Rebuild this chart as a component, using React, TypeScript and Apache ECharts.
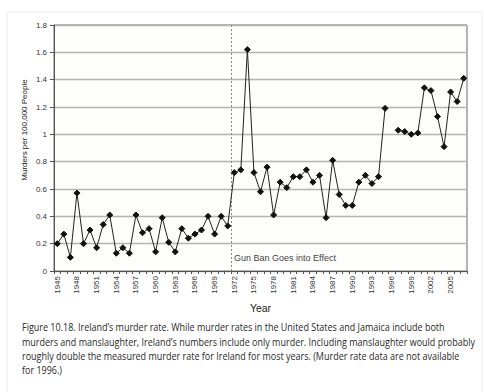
import React, { useEffect, useRef } from "react";
import * as echarts from "echarts";

const startYear = 1945;
const endYear = 2007;
const years: string[] = [];
for (let y = startYear; y <= endYear; y++) years.push(String(y));

// Murders per 100,000 people, 1945–2007 (1996 not available)
const murderRates: (number | null)[] = [
  0.20, 0.27, 0.10, 0.57, 0.20, 0.30, 0.17, 0.34, 0.41, 0.13, // 1945-1954
  0.17, 0.13, 0.41, 0.28, 0.31, 0.14, 0.39, 0.21, 0.14, 0.31, // 1955-1964
  0.24, 0.27, 0.30, 0.40, 0.27, 0.40, 0.33, 0.72, 0.74, 1.62, // 1965-1974
  0.72, 0.58, 0.76, 0.41, 0.65, 0.61, 0.69, 0.69, 0.74, 0.65, // 1975-1984
  0.70, 0.39, 0.81, 0.56, 0.48, 0.48, 0.65, 0.70, 0.64, 0.69, // 1985-1994
  1.19, null, 1.03, 1.02, 1.00, 1.01, 1.34, 1.32, 1.13, 0.91, // 1995-2004
  1.31, 1.24, 1.41,                                           // 2005-2007
];

const gunBanBoundary = 1971.5;
const gunBanLabel = "Gun Ban Goes into Effect";
const yAxisTitle = "Murders per 100,000 People";
const xAxisTitle = "Year";
const captionLines = [
  "Figure 10.18. Ireland\u2019s murder rate. While murder rates in the United States and Jamaica include both",
  "murders and manslaughter, Ireland\u2019s numbers include only murder. Including manslaughter would probably",
  "roughly double the measured murder rate for Ireland for most years. (Murder rate data are not available",
  "for 1996.)",
];

export default function App() {
  const ref = useRef<HTMLDivElement>(null);
  useEffect(() => {
    if (!ref.current) return;
    const chart = echarts.init(ref.current, null, { renderer: "svg" });
    const font = "Liberation Sans, Arial, sans-serif";
    chart.setOption({
      animation: false,
      backgroundColor: "#ffffff",
      grid: {
        left: 54,
        top: 25,
        right: 17,
        bottom: 121,
        containLabel: false,
        outerBoundsMode: "none",
        show: true,
        borderColor: "#6a6a6a",
        borderWidth: 1,
        backgroundColor: "#fdfdfc",
      },
      xAxis: [
        {
          type: "category",
          data: years,
          boundaryGap: true,
          name: xAxisTitle,
          nameLocation: "middle",
          nameGap: 31,
          nameTextStyle: { fontFamily: font, fontSize: 10.5, color: "#222" },
          axisLine: { lineStyle: { color: "#555", width: 1 } },
          axisTick: { show: true, interval: 0, length: 3, lineStyle: { color: "#555" } },
          axisLabel: {
            interval: 2,
            rotate: 90,
            fontFamily: font,
            fontSize: 8,
            color: "#333",
            margin: 5,
          },
          splitLine: { show: false },
        },
        {
          type: "value",
          min: startYear - 0.5,
          max: endYear + 0.5,
          show: false,
        },
      ],
      yAxis: {
        type: "value",
        min: 0,
        max: 1.8,
        interval: 0.2,
        axisLine: { show: true, lineStyle: { color: "#555", width: 1 } },
        axisTick: { show: true, length: 4, lineStyle: { color: "#555" } },
        axisLabel: {
          fontFamily: font,
          fontSize: 8,
          color: "#333",
          margin: 7,
          formatter: (v: number) => String(Math.round(v * 10) / 10),
        },
        splitLine: { show: true, lineStyle: { color: "#b4b4b4", width: 1.3 } },
      },
      series: [
        {
          type: "line",
          data: murderRates,
          connectNulls: false,
          symbol: "diamond",
          symbolSize: 6,
          showSymbol: true,
          showAllSymbol: true,
          lineStyle: { color: "#222", width: 1 },
          itemStyle: { color: "#111", borderColor: "#111" },
          z: 5,
        },
        {
          type: "line",
          xAxisIndex: 1,
          data: [],
          markLine: {
            silent: true,
            symbol: "none",
            label: { show: false },
            lineStyle: { type: [2, 2], color: "#888", width: 1 },
            data: [{ xAxis: gunBanBoundary }],
          },
        },
      ],
      graphic: [
        {
          type: "rect",
          shape: { x: 7, y: 12, width: 475, height: 392 },
          style: { fill: "none", stroke: "#ececec", lineWidth: 1 },
          silent: true,
          z: -10,
        },
        {
          type: "text",
          x: 24,
          y: 130,
          rotation: Math.PI / 2,
          style: {
            text: yAxisTitle,
            fontFamily: font,
            fontSize: 8,
            fill: "#222",
            align: "center",
            verticalAlign: "middle",
          },
        },
        {
          type: "text",
          x: 234,
          y: 258,
          style: {
            text: gunBanLabel,
            fontFamily: font,
            fontSize: 9,
            fill: "#444",
            align: "left",
            verticalAlign: "middle",
          },
        },
        {
          type: "text",
          x: 22,
          y: 320,
          scaleX: 0.857,
          style: {
            text: captionLines.join("\n"),
            fontFamily: "Open Sans, Noto Sans, sans-serif",
            fontSize: 10.5,
            lineHeight: 14.5,
            fill: "#2a2a2a",
            align: "left",
            verticalAlign: "top",
          },
        },
      ],
    });
    return () => chart.dispose();
  }, []);
  return (
    <div
      ref={ref}
      style={{ position: "absolute", left: 0, top: 0, width: 484, height: 392 }}
    />
  );
}
